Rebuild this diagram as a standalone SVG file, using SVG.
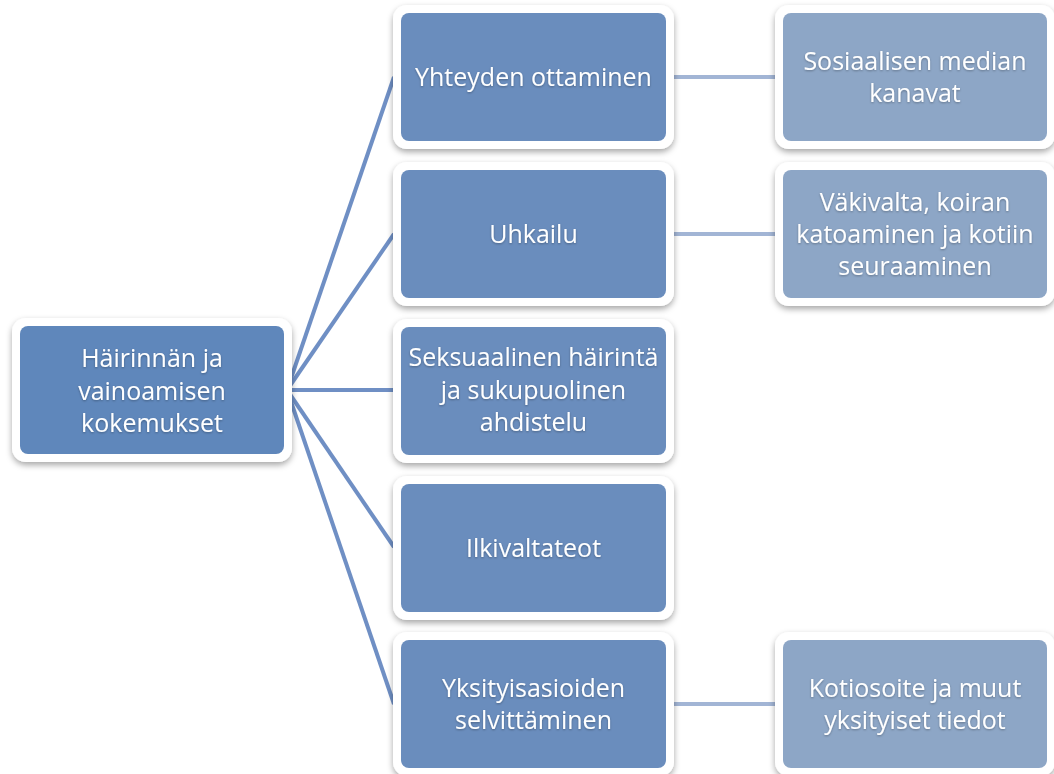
<svg xmlns="http://www.w3.org/2000/svg" width="1054" height="774" viewBox="0 0 1054 774">
<defs>
<filter id="sh" x="-10%" y="-10%" width="120%" height="130%">
<feDropShadow dx="0" dy="3" stdDeviation="3" flood-color="#000" flood-opacity="0.35"/>
</filter>
<filter id="ts" x="-5%" y="-20%" width="110%" height="140%">
<feDropShadow dx="0" dy="1" stdDeviation="1" flood-color="#000" flood-opacity="0.3"/>
</filter>
</defs>
<style>
.frame{fill:#ffffff;filter:url(#sh)}
.root{fill:#5f87bb}
.mid{fill:#6a8dbd}
.leaf{fill:#8da6c6}
.t{font-family:"Open Sans","Liberation Sans",sans-serif;font-size:25px;fill:#ffffff;text-anchor:middle;filter:url(#ts)}
.c1{stroke:#6f8fc4;stroke-width:4;fill:none}
.c2{stroke:#a2b5d5;stroke-width:4;fill:none}
</style>
<rect width="1054" height="774" fill="#ffffff"/>
<g id="connectors">
<line class="c1" x1="287" y1="390" x2="394" y2="77"/>
<line class="c1" x1="287" y1="390" x2="394" y2="234"/>
<line class="c1" x1="287" y1="390" x2="394" y2="390"/>
<line class="c1" x1="287" y1="390" x2="394" y2="547"/>
<line class="c1" x1="287" y1="390" x2="394" y2="704"/>
<line class="c2" x1="672" y1="77" x2="777" y2="77"/>
<line class="c2" x1="672" y1="234" x2="777" y2="234"/>
<line class="c2" x1="672" y1="704" x2="777" y2="704"/>
</g>
<g id="root">
<rect class="frame" x="12" y="318" width="280" height="144" rx="14"/>
<rect class="root" x="20" y="326" width="264" height="128" rx="8"/>
<text class="t" x="152" y="367">Häirinnän ja</text>
<text class="t" x="152" y="400">vainoamisen</text>
<text class="t" x="152" y="432">kokemukset</text>
</g>
<g id="n1">
<rect class="frame" x="393" y="5" width="281" height="144" rx="14"/>
<rect class="mid" x="401" y="13" width="265" height="128" rx="8"/>
<text class="t" x="533.5" y="86">Yhteyden ottaminen</text>
</g>
<g id="n2">
<rect class="frame" x="393" y="162" width="281" height="144" rx="14"/>
<rect class="mid" x="401" y="170" width="265" height="128" rx="8"/>
<text class="t" x="533.5" y="243">Uhkailu</text>
</g>
<g id="n3">
<rect class="frame" x="393" y="319" width="281" height="144" rx="14"/>
<rect class="mid" x="401" y="327" width="265" height="128" rx="8"/>
<text class="t" x="533.5" y="366">Seksuaalinen häirintä</text>
<text class="t" x="533.5" y="399">ja sukupuolinen</text>
<text class="t" x="533.5" y="431">ahdistelu</text>
</g>
<g id="n4">
<rect class="frame" x="393" y="476" width="281" height="144" rx="14"/>
<rect class="mid" x="401" y="484" width="265" height="128" rx="8"/>
<text class="t" x="533.5" y="557">Ilkivaltateot</text>
</g>
<g id="n5">
<rect class="frame" x="393" y="632" width="281" height="144" rx="14"/>
<rect class="mid" x="401" y="640" width="265" height="128" rx="8"/>
<text class="t" x="533.5" y="697">Yksityisasioiden</text>
<text class="t" x="533.5" y="729">selvittäminen</text>
</g>
<g id="l1">
<rect class="frame" x="775" y="5" width="280" height="144" rx="14"/>
<rect class="leaf" x="783" y="13" width="264" height="128" rx="8"/>
<text class="t" x="915" y="70">Sosiaalisen median</text>
<text class="t" x="915" y="102">kanavat</text>
</g>
<g id="l2">
<rect class="frame" x="775" y="162" width="280" height="144" rx="14"/>
<rect class="leaf" x="783" y="170" width="264" height="128" rx="8"/>
<text class="t" x="915" y="211">Väkivalta, koiran</text>
<text class="t" x="915" y="243">katoaminen ja kotiin</text>
<text class="t" x="915" y="275">seuraaminen</text>
</g>
<g id="l3">
<rect class="frame" x="775" y="632" width="280" height="144" rx="14"/>
<rect class="leaf" x="783" y="640" width="264" height="128" rx="8"/>
<text class="t" x="915" y="697">Kotiosoite ja muut</text>
<text class="t" x="915" y="729">yksityiset tiedot</text>
</g>
</svg>
